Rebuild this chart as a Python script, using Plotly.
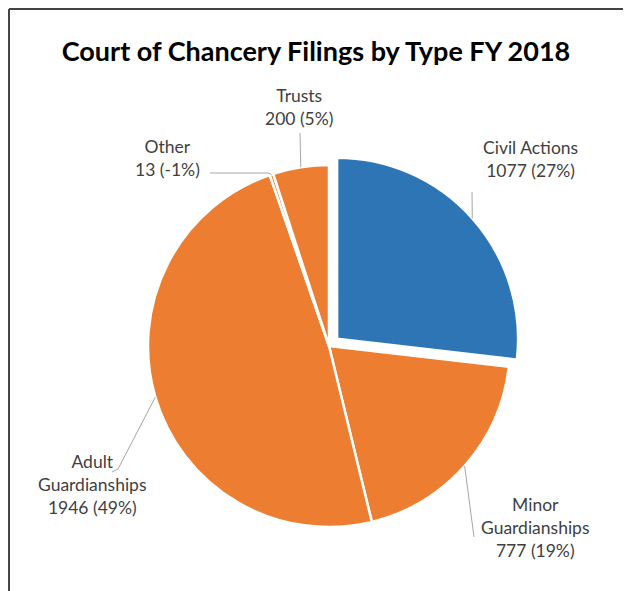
import math
import plotly.graph_objects as go

# ---- data ----
categories = ["Civil Actions", "Minor Guardianships", "Adult Guardianships", "Other", "Trusts"]
values = [1077, 777, 1946, 13, 200]
pct_labels = ["27%", "19%", "49%", "-1%", "5%"]
colors = ["#2E75B6", "#ED7D31", "#ED7D31", "#ED7D31", "#ED7D31"]
pulls = [0.06, 0, 0, 0, 0]
label_text = [
    "Civil Actions<br>1077 (27%)",
    "Minor<br>Guardianships<br>777 (19%)",
    "Adult<br>Guardianships<br>1946 (49%)",
    "Other<br>13 (-1%)",
    "Trusts<br>200 (5%)",
]

# ---- layout (page pixel coordinates; page has an 8px body offset) ----
W, H = 631, 591
OFF = 8
CX, CY, R = 329 - OFF, 346 - OFF, 181
maxpull = max(pulls)
half = R * (1 + maxpull)
dom_x = [(CX - half) / W, (CX + half) / W]
dom_y = [(H - CY - half) / H, (H - CY + half) / H]

label_pos = [(530, 159), (535, 527), (92, 484), (167, 158), (299, 107)]
leader_end = [(472, 192), (474, 537), (112, 472), (210, 173), (300, 133)]
leader_knee = [None, None, (118, 469), (268, 173), None]

fig = go.Figure(go.Pie(
    labels=categories, values=values, sort=False, direction="clockwise",
    rotation=0, pull=pulls, textinfo="none", hoverinfo="skip",
    marker=dict(colors=colors, line=dict(color="white", width=2.5)),
    domain=dict(x=dom_x, y=dom_y), showlegend=False,
))


def px(x, y):
    return x / W, 1 - y / H


def pg(x, y):
    return px(x - OFF, y - OFF)


total = sum(values)
shapes = []
cum = 0
for i, v in enumerate(values):
    mid = (cum + v / 2) / total * 2 * math.pi
    cum += v
    ox = pulls[i] * R * math.sin(mid)
    oy = -pulls[i] * R * math.cos(mid)
    ex = CX + ox + R * math.sin(mid)
    ey = CY + oy - R * math.cos(mid)
    pts = [px(ex, ey)]
    if leader_knee[i]:
        pts.append(pg(*leader_knee[i]))
    pts.append(pg(*leader_end[i]))
    for a, b in zip(pts[:-1], pts[1:]):
        shapes.append(dict(type="line", xref="paper", yref="paper",
                           x0=a[0], y0=a[1], x1=b[0], y1=b[1],
                           line=dict(color="#A6A6A6", width=1)))

# outer frame (left + top)
shapes.append(dict(type="line", xref="paper", yref="paper",
                   x0=1 / W, y0=0, x1=1 / W, y1=1 - 1 / H,
                   line=dict(color="#444444", width=2)))
shapes.append(dict(type="line", xref="paper", yref="paper",
                   x0=1 / W, y0=1 - 1 / H, x1=1, y1=1 - 1 / H,
                   line=dict(color="#444444", width=2)))

annotations = []
for (lx, ly), t in zip(label_pos, label_text):
    x, y = pg(lx, ly)
    annotations.append(dict(x=x, y=y, xref="paper", yref="paper", text=t,
                            showarrow=False, xanchor="center", yanchor="middle",
                            align="center",
                            font=dict(family="Lato", size=17.5, color="#3F3F3F")))

tx, ty = pg(316, 52)
fig.update_layout(
    width=W, height=H, margin=dict(l=0, r=0, t=0, b=0),
    paper_bgcolor="white", plot_bgcolor="white",
    title=dict(text="<b>Court of Chancery Filings by Type FY 2018</b>",
               x=tx, xanchor="center", y=ty, yanchor="middle",
               font=dict(family="Lato", size=27, color="#000000")),
    shapes=shapes, annotations=annotations,
)

fig.write_html("out.html")
